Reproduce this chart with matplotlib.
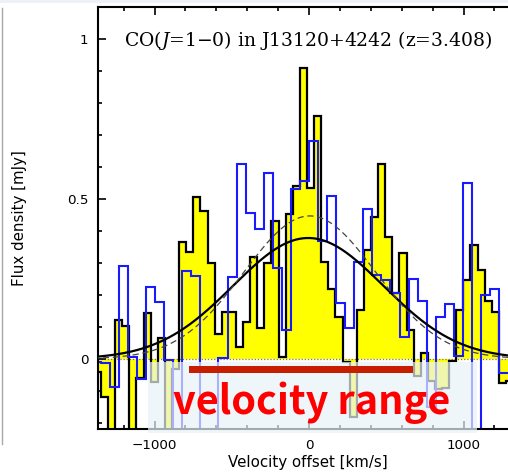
import numpy as np
import matplotlib
matplotlib.use("Agg")
import matplotlib.pyplot as plt
from matplotlib.patches import Rectangle
from matplotlib.ticker import MultipleLocator, FixedLocator, FixedFormatter

plt.rcParams["mathtext.fontset"] = "dejavuserif"

# CO(1-0) spectrum: 46 km/s channels, flux density in mJy (yellow, filled)
co_v0 = -1393.0
co_dv = 46.0
co_flux = [
    -0.04, -0.12, -0.30, 0.122, 0.103, -0.30, -0.06, 0.145, -0.072, 0.065,
    -0.30, -0.033, 0.367, 0.335, 0.505, 0.462, 0.30, 0.078, 0.148, 0.148,
    0.038, 0.117, 0.32, 0.098, 0.30, 0.43, 0.007, 0.453, 0.54, 0.908,
    0.534, 0.76, 0.304, 0.218, 0.132, -0.01, -0.18, 0.153, 0.34, 0.445,
    0.61, 0.382, 0.205, 0.33, 0.09, -0.053, 0.02, -0.07, -0.095, -0.09,
    -0.005, 0.153, 0.247, 0.356, 0.278, 0.18, 0.148, -0.075, -0.07,
]

# Same line at coarser resolution: 58.6 km/s channels (blue outline)
alt_v0 = -1406.4
alt_dv = 58.6
alt_flux = [
    -0.01, -0.013, -0.087, 0.29, 0.007, -0.063, 0.226, 0.177, -0.003, -0.30,
    0.275, 0.26, -0.30, -0.30, 0.002, 0.257, 0.61, 0.455, 0.405, 0.58,
    0.283, 0.09, 0.53, 0.555, 0.68, 0.37, 0.51, 0.174, 0.096, 0.304,
    0.469, 0.2625, 0.247, 0.205, 0.07, 0.25, 0.18, -0.149, 0.13, 0.171,
    0.01, 0.55, -0.30, 0.20, 0.218, -0.045, -0.045,
]

# Gaussian fits: amplitude [mJy], centre [km/s], sigma [km/s]
fit_solid = (0.378, -5.0, 485.0)
fit_dashed = (0.447, 5.0, 427.0)

# Highlighted velocity interval and its annotation
range_bar = (-777.0, 673.0)
range_box = (-1042.0, 1087.0)
range_label = "velocity range"

title = r"CO($\mathit{J}$=1$-$0) in J13120+4242 (z=3.408)"
x_ticks = [-1000, 0, 1000]
x_ticklabels = ["\u22121000", "0", "1000"]
y_ticks = [0, 0.5, 1]
y_ticklabels = ["0", "0.5", "1"]

W, H = 508, 472
fig = plt.figure(figsize=(W / 100, H / 100), dpi=100)
ax = fig.add_axes([98 / W, 43 / H, 410 / W, 422 / H])
ax.set_xlim(-1366, 1288)
ax.set_ylim(-0.219, 1.1)

co_edges = co_v0 + co_dv * np.arange(len(co_flux) + 1)
alt_edges = alt_v0 + alt_dv * np.arange(len(alt_flux) + 1)

ax.stairs(co_flux, co_edges, baseline=0, fill=True, color="#ffff00", zorder=1)
ax.axhline(0, color="#777777", lw=0.9, ls=(0, (1, 1.5)), zorder=1.5)
ax.stairs(co_flux, co_edges, baseline=None, color="black", lw=1.6, zorder=2)
ax.stairs(alt_flux, alt_edges, baseline=None, color="#1a1aff", lw=1.5, zorder=2.2)

v = np.linspace(-1400, 1300, 600)
a, c, s = fit_solid
ax.plot(v, a * np.exp(-0.5 * ((v - c) / s) ** 2), color="black", lw=1.6, zorder=3)
a, c, s = fit_dashed
ax.plot(v, a * np.exp(-0.5 * ((v - c) / s) ** 2), color="#444444", lw=0.9,
        ls=(0, (5, 3)), zorder=3)

# axes frame and ticks
ax.spines["right"].set_visible(False)
for sp in ("left", "top", "bottom"):
    ax.spines[sp].set_linewidth(1.5)
ax.xaxis.set_major_locator(FixedLocator(x_ticks))
ax.xaxis.set_major_formatter(FixedFormatter(x_ticklabels))
ax.xaxis.set_minor_locator(MultipleLocator(200))
ax.yaxis.set_major_locator(FixedLocator(y_ticks))
ax.yaxis.set_major_formatter(FixedFormatter(y_ticklabels))
ax.yaxis.set_minor_locator(MultipleLocator(0.1))
ax.tick_params(which="both", direction="in", top=True, right=False, width=1.2,
               labelsize=9.7, colors="black")
ax.tick_params(which="major", length=5.5)
ax.tick_params(which="minor", length=3)
ax.tick_params(axis="y", pad=7)
ax.tick_params(axis="x", pad=7)

fig.text(308 / W, 1 - 462 / H, "Velocity offset [km/s]", ha="center", va="center",
         fontsize=10.8)
fig.text(20 / W, 1 - 218 / H, "Flux density [mJy]", ha="center", va="center",
         rotation=90, fontsize=10.8)
fig.text(124 / W, 1 - 41 / H, title, ha="left", va="center",
         family="DejaVu Serif", fontsize=13.5)

# highlighted velocity range
ax.add_patch(Rectangle((range_box[0], -0.231), range_box[1] - range_box[0], 0.2216,
                       facecolor="#e9f3f8", edgecolor="none", alpha=0.7,
                       zorder=5, clip_on=False))
ax.add_patch(Rectangle((range_bar[0], -0.044), range_bar[1] - range_bar[0], 0.022,
                       facecolor="#c81e00", edgecolor="none", zorder=6))
ax.text(19, -0.172, range_label, color="#ff0000", fontsize=28.5,
        fontweight="bold", family=["Noto Sans CJK JP", "DejaVu Sans"],
        ha="center", va="baseline", zorder=7)

# page edge details
fig.add_artist(plt.Line2D([1.5 / W, 1.5 / W], [1 - 444 / H, 1 - 8 / H],
                          transform=fig.transFigure, color="#a8a8a8", lw=1))
fig.add_artist(Rectangle((0, 1 - 2.5 / H), 1, 2.5 / H, transform=fig.transFigure,
                         facecolor="#eef2f8", edgecolor="none"))

fig.savefig("out.png", dpi=100)
